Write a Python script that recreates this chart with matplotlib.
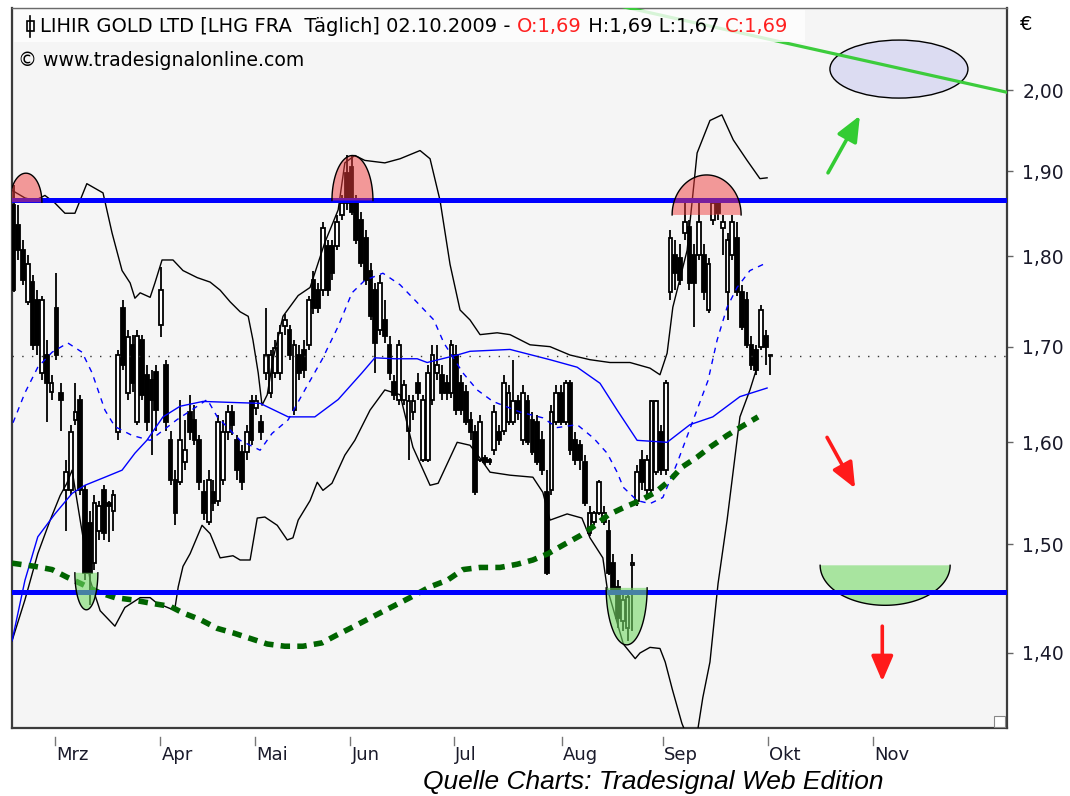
import numpy as np
import matplotlib
matplotlib.use("Agg")
import matplotlib.pyplot as plt
from matplotlib.patches import Polygon, Ellipse, Rectangle
from matplotlib.ticker import FixedLocator, NullLocator, FixedFormatter

# ---------------- data (trading-day index, price in EUR) ----------------
opens = [1.860,1.836,1.807,1.749,1.771,1.751,1.672,1.691,1.652,1.742,
 1.651,1.552,1.552,1.623,1.644,1.552,1.520,1.482,1.513,1.552,
 1.540,1.532,1.610,1.742,1.651,1.702,1.621,1.707,1.670,1.664,
 1.673,1.724,1.680,1.602,1.562,1.560,1.580,1.631,1.623,1.602,
 1.550,1.521,1.550,1.542,1.562,1.610,1.631,1.602,1.590,1.590,
 1.642,1.635,1.621,1.672,1.651,1.672,1.672,1.722,1.718,1.633,
 1.691,1.696,1.702,1.773,1.762,1.762,1.812,1.812,1.812,1.848,
 1.898,1.905,1.862,1.842,1.821,1.784,1.762,1.718,1.729,1.702,
 1.662,1.644,1.644,1.612,1.631,1.661,1.582,1.582,1.644,1.672,
 1.670,1.661,1.651,1.691,1.661,1.652,1.623,1.610,1.582,1.584,
 1.582,1.592,1.610,1.612,1.621,1.621,1.642,1.602,1.642,1.623,
 1.621,1.602,1.550,1.552,1.621,1.651,1.621,1.661,1.602,1.597,
 1.580,1.511,1.521,1.530,1.521,1.513,1.482,1.460,1.429,1.422,
 1.480,1.542,1.582,1.552,1.552,1.570,1.610,1.572,1.760,1.802,
 1.798,1.827,1.834,1.802,1.802,1.802,1.740,1.842,1.862,1.833,
 1.760,1.802,1.821,1.760,1.751,1.702,1.696,1.700,1.711,1.69]
closes = [1.762,1.807,1.773,1.791,1.702,1.702,1.751,1.661,1.661,1.691,
 1.644,1.570,1.610,1.631,1.552,1.473,1.473,1.540,1.537,1.511,
 1.537,1.547,1.691,1.680,1.710,1.661,1.711,1.649,1.621,1.644,
 1.633,1.762,1.621,1.562,1.530,1.602,1.592,1.610,1.602,1.560,
 1.530,1.562,1.540,1.621,1.610,1.631,1.618,1.572,1.560,1.610,
 1.602,1.642,1.610,1.691,1.691,1.699,1.715,1.729,1.691,1.702,
 1.672,1.675,1.751,1.742,1.742,1.833,1.762,1.781,1.840,1.862,
 1.862,1.851,1.819,1.793,1.773,1.733,1.704,1.770,1.711,1.672,
 1.649,1.702,1.659,1.642,1.642,1.651,1.644,1.672,1.691,1.680,
 1.651,1.651,1.702,1.633,1.633,1.621,1.610,1.550,1.621,1.580,
 1.580,1.631,1.602,1.661,1.651,1.642,1.630,1.651,1.600,1.590,
 1.580,1.572,1.473,1.631,1.651,1.621,1.661,1.592,1.582,1.582,
 1.540,1.530,1.530,1.560,1.530,1.473,1.454,1.431,1.448,1.451,
 1.482,1.570,1.560,1.582,1.642,1.642,1.572,1.661,1.821,1.781,
 1.773,1.840,1.770,1.770,1.840,1.760,1.791,1.862,1.850,1.840,
 1.819,1.840,1.760,1.721,1.702,1.680,1.675,1.740,1.700,1.69]
highs = [1.883,1.860,1.819,1.802,1.779,1.762,1.756,1.707,1.670,1.781,
 1.661,1.582,1.618,1.661,1.649,1.557,1.532,1.547,1.542,1.557,
 1.542,1.552,1.696,1.751,1.718,1.713,1.718,1.713,1.680,1.675,
 1.680,1.788,1.686,1.612,1.572,1.644,1.623,1.649,1.638,1.607,
 1.562,1.572,1.562,1.628,1.623,1.638,1.638,1.607,1.597,1.618,
 1.649,1.649,1.628,1.742,1.696,1.707,1.724,1.735,1.724,1.707,
 1.702,1.707,1.756,1.784,1.770,1.840,1.819,1.819,1.848,1.871,
 1.919,1.919,1.871,1.851,1.830,1.793,1.770,1.779,1.751,1.711,
 1.670,1.707,1.664,1.649,1.649,1.672,1.649,1.680,1.702,1.702,
 1.680,1.670,1.707,1.702,1.670,1.659,1.631,1.618,1.628,1.587,
 1.584,1.638,1.618,1.670,1.659,1.686,1.649,1.659,1.649,1.631,
 1.628,1.612,1.572,1.638,1.659,1.659,1.664,1.664,1.610,1.602,
 1.587,1.537,1.532,1.562,1.537,1.523,1.491,1.466,1.457,1.457,
 1.491,1.577,1.592,1.587,1.644,1.644,1.618,1.664,1.830,1.819,
 1.814,1.865,1.842,1.814,1.865,1.814,1.798,1.868,1.868,1.848,
 1.827,1.848,1.840,1.768,1.760,1.711,1.702,1.745,1.718,1.69]
lows = [1.760,1.796,1.768,1.745,1.696,1.691,1.664,1.621,1.644,1.686,
 1.612,1.513,1.547,1.618,1.547,1.466,1.443,1.476,1.504,1.504,
 1.502,1.513,1.602,1.675,1.644,1.652,1.618,1.644,1.612,1.587,
 1.612,1.710,1.612,1.557,1.518,1.557,1.572,1.602,1.597,1.552,
 1.523,1.518,1.532,1.537,1.557,1.602,1.607,1.562,1.552,1.582,
 1.597,1.628,1.602,1.664,1.646,1.667,1.664,1.713,1.686,1.628,
 1.664,1.667,1.696,1.735,1.737,1.756,1.756,1.773,1.807,1.842,
 1.854,1.848,1.814,1.788,1.768,1.729,1.672,1.713,1.704,1.664,
 1.644,1.638,1.638,1.582,1.623,1.644,1.580,1.580,1.638,1.664,
 1.644,1.644,1.646,1.628,1.628,1.618,1.602,1.547,1.580,1.577,
 1.577,1.587,1.597,1.607,1.618,1.618,1.623,1.597,1.597,1.587,
 1.577,1.567,1.471,1.547,1.618,1.618,1.618,1.587,1.577,1.572,
 1.537,1.508,1.518,1.528,1.518,1.471,1.452,1.422,1.420,1.411,
 1.420,1.537,1.552,1.547,1.547,1.567,1.567,1.567,1.751,1.762,
 1.768,1.819,1.762,1.721,1.796,1.751,1.737,1.836,1.842,1.802,
 1.729,1.796,1.756,1.718,1.699,1.675,1.670,1.696,1.680,1.67]

# indicator lines: (trading-day index, price)
upper_band_x = [-0.3,2.4,4.5,6.6,8.7,10.8,12.9,15.4,18.8,20.7,22.8,24.5,25.5,26.6,28.7,29.7,31.2,33.5,35.6,38.6,
  41.3,43.4,45.5,47.6,49.3,50.3,51.4,52.2,53.3,54.5,56.6,59.8,62.3,65.4,68.2,69.6,71.7,73.8,78.0,81.2,
  85.4,87.5,89.6,91.7,93.8,95.9,98.0,101.6,104.3,108.5,112.7,116.9,121.1,125.3,129.5,133.7,135.8,137.3,138.5,141.5,
  143.6,146.3,148.8,151.2,154.1,156.8,158.3]
upper_band_y = [1.877,1.868,1.865,1.871,1.862,1.850,1.850,1.885,1.874,1.827,1.784,1.770,1.753,1.759,1.754,1.770,1.796,1.796,1.784,1.776,
  1.771,1.762,1.749,1.738,1.733,1.707,1.672,1.638,1.649,1.686,1.733,1.756,1.765,1.816,1.854,1.910,1.919,1.913,1.910,1.915,
  1.925,1.915,1.865,1.791,1.740,1.729,1.713,1.715,1.713,1.702,1.700,1.691,1.686,1.683,1.683,1.677,1.670,1.693,1.743,1.807,
  1.922,1.962,1.969,1.938,1.913,1.891,1.892]
lower_band_x = [-0.3,2.4,5.1,7.7,9.8,11.2,12.3,14.0,16.1,18.2,21.3,23.4,26.6,28.7,30.1,32.9,33.9,34.6,35.6,37.1,
  39.6,41.3,43.4,46.1,47.6,49.7,51.2,52.8,55.4,57.5,58.7,59.8,62.3,63.8,65.0,66.9,69.6,71.7,74.9,78.0,
  81.2,83.9,87.5,89.2,93.2,95.9,98.0,100.1,104.3,109.1,111.2,112.7,116.3,119.4,121.1,123.8,124.7,128.1,130.6,131.6,
  133.7,135.8,136.9,138.4,140.4,141.3,143.6,144.8,146.3,148.0,149.9,152.6,154.7,156.2]
lower_band_y = [1.411,1.448,1.491,1.523,1.547,1.559,1.572,1.523,1.466,1.438,1.424,1.441,1.450,1.450,1.445,1.440,1.440,1.460,1.479,1.491,
  1.518,1.510,1.487,1.489,1.485,1.485,1.525,1.526,1.518,1.504,1.506,1.523,1.542,1.560,1.552,1.559,1.587,1.602,1.633,1.654,
  1.649,1.595,1.557,1.559,1.600,1.597,1.584,1.570,1.567,1.565,1.550,1.523,1.529,1.525,1.506,1.487,1.459,1.408,1.395,1.400,
  1.405,1.404,1.392,1.368,1.339,1.330,1.330,1.361,1.392,1.463,1.523,1.626,1.654,1.678]
mid_band_x = [-0.3,2.4,5.1,8.7,12.3,15.0,19.2,22.8,25.5,28.0,31.4,35.0,39.8,45.5,51.8,57.7,63.3,68.2,73.2,75.9,
  80.1,84.8,86.9,93.2,95.9,104.3,112.7,118.4,123.2,126.8,131.0,137.3,142.1,146.9,152.6,158.3]
mid_band_y = [1.411,1.466,1.507,1.529,1.549,1.557,1.565,1.572,1.589,1.602,1.626,1.637,1.642,1.641,1.640,1.626,1.626,1.644,1.672,1.688,
  1.687,1.687,1.683,1.691,1.695,1.697,1.686,1.678,1.661,1.633,1.602,1.600,1.618,1.626,1.647,1.656]
fast_ma_x = [-0.1,2.4,5.1,8.1,11.4,14.4,16.5,19.2,21.3,24.9,28.7,34.3,38.6,40.7,42.8,47.6,51.8,54.3,57.7,61.2,
  64.8,68.2,71.1,73.8,77.6,81.2,84.3,88.3,90.4,94.4,97.4,100.7,106.4,111.2,114.2,118.4,121.9,124.7,126.8,128.1,
  131.0,133.7,136.4,139.4,142.8,145.9,147.8,149.9,152.0,154.7,157.5]
fast_ma_y = [1.620,1.651,1.678,1.694,1.704,1.694,1.672,1.633,1.616,1.607,1.602,1.623,1.637,1.644,1.626,1.602,1.592,1.609,1.623,1.654,
  1.686,1.722,1.759,1.773,1.781,1.768,1.751,1.729,1.704,1.672,1.654,1.642,1.631,1.625,1.615,1.618,1.604,1.589,1.570,1.555,
  1.542,1.539,1.545,1.579,1.623,1.664,1.707,1.743,1.765,1.784,1.791]
slow_ma_x = [-0.3,4.5,8.1,11.2,14.6,17.8,21.3,24.9,28.7,32.9,35.6,39.2,42.8,46.1,49.7,53.3,57.0,60.8,64.8,67.9,
  70.7,77.0,83.3,87.5,91.1,94.4,98.0,102.2,105.8,109.1,112.3,115.4,119.0,122.2,124.9,128.1,131.6,134.8,137.9,140.4,
  143.6,146.3,149.9,152.6,156.4]
slow_ma_y = [1.482,1.479,1.476,1.469,1.462,1.455,1.450,1.448,1.445,1.442,1.436,1.430,1.422,1.418,1.413,1.408,1.406,1.406,1.409,1.416,
  1.422,1.436,1.450,1.460,1.466,1.476,1.478,1.478,1.481,1.485,1.491,1.499,1.508,1.518,1.528,1.535,1.542,1.550,1.562,1.575,
  1.585,1.595,1.607,1.615,1.626]

resistance = 1.866
support = 1.455
last_close = 1.69
trend_x = [125.0, 209.0]
trend_y = [2.113, 1.997]

month_labels = ["Mrz", "Apr", "Mai", "Jun", "Jul", "Aug", "Sep", "Okt", "Nov"]
month_pos = [8.7, 30.8, 50.7, 70.7, 92.5, 115.2, 136.4, 158.5, 180.6]
price_ticks = [1.40, 1.50, 1.60, 1.70, 1.80, 1.90, 2.00]
price_labels = ["1,40", "1,50", "1,60", "1,70", "1,80", "1,90", "2,00"]

# ---------------- figure ----------------
W, H = 1070, 796
fig = plt.figure(figsize=(W / 100, H / 100), dpi=100)
fig.patch.set_facecolor("white")
ax = fig.add_axes([12 / W, 68 / H, 995 / W, 720 / H])
ax.set_facecolor("#f5f5f5")
ax.set_yscale("log")
ax.set_ylim(1.335, 2.107)
ax.set_xlim(-0.32, 208.7)

for s in ["left", "bottom", "right"]:
    ax.spines[s].set_color("#3c3c3c")
    ax.spines[s].set_linewidth(1.6)
ax.spines["top"].set_color("#6a6a6a")
ax.spines["top"].set_linewidth(1.0)

ax.yaxis.tick_right()
ax.yaxis.set_major_locator(FixedLocator(price_ticks))
ax.yaxis.set_major_formatter(FixedFormatter(price_labels))
ax.yaxis.set_minor_locator(NullLocator())
ax.tick_params(axis="y", which="major", length=4, width=1, color="#666666",
               pad=7, labelsize=13.5, labelcolor="#1a1a2a")
ax.set_xticks([])

# candles
o = np.array(opens); c = np.array(closes); h = np.array(highs); l = np.array(lows)
idx = np.arange(len(c))
ax.vlines(idx, l, h, colors="black", linewidth=1.3, zorder=3)
bottoms = np.minimum(o, c)
heights = np.maximum(np.abs(c - o), 0.0015)
face = ["white" if cc >= oo else "black" for oo, cc in zip(o, c)]
ax.bar(idx, heights, bottom=bottoms, width=0.78, color=face, edgecolor="black",
       linewidth=1.3, zorder=4)

# indicators
ax.plot(upper_band_x, upper_band_y, color="black", lw=1.0, zorder=5)
ax.plot(lower_band_x, lower_band_y, color="black", lw=1.0, zorder=5)
ax.plot(mid_band_x, mid_band_y, color="#0000ff", lw=1.0, zorder=5)
ax.plot(fast_ma_x, fast_ma_y, color="#0000ff", lw=1.0, ls=(0, (4, 4)), zorder=5)
ax.plot(slow_ma_x, slow_ma_y, color="#006400", lw=4.0, ls=(0, (1.7, 1.3)),
        dash_capstyle="butt", zorder=5)

# horizontal lines
ax.axhline(resistance, color="#0000ff", lw=3.6, zorder=6)
ax.axhline(support, color="#0000ff", lw=3.6, zorder=6)
ax.axhline(last_close, color="#333333", lw=1.0, ls=(0, (1, 6)), zorder=6)

fig.canvas.draw()

def to_disp(xd, yd):
    return ax.transData.transform((xd, yd))

def half_ellipse(xd, yd, a_px, b_px, upper, fc, alpha, z):
    X, Y = to_disp(xd, yd)
    t = np.linspace(0, np.pi, 80)
    xs = X + a_px * np.cos(t)
    ys = Y + (b_px if upper else -b_px) * np.sin(t)
    pts = ax.transAxes.inverted().transform(np.column_stack([xs, ys]))
    ax.add_patch(Polygon(pts, closed=True, transform=ax.transAxes, facecolor=fc,
                         alpha=alpha, edgecolor="none", zorder=z))
    ax.plot(pts[:, 0], pts[:, 1], transform=ax.transAxes, color="black",
            lw=1.0, zorder=z + 0.1)

red_fill = "#f03c3c"
green_fill = "#75d967"
half_ellipse(2.6, 1.863, 16, 29, True, red_fill, 0.5, 7)
half_ellipse(71.2, 1.865, 20.5, 45, True, red_fill, 0.5, 7)
half_ellipse(145.6, 1.848, 34.5, 40, True, red_fill, 0.5, 7)
half_ellipse(15.3, 1.473, 11.5, 37, False, green_fill, 0.6, 7)
half_ellipse(128.8, 1.459, 20.5, 57, False, green_fill, 0.6, 7)
half_ellipse(183.1, 1.480, 65, 40, False, green_fill, 0.6, 5.5)

# trend line and ellipse
ax.plot(trend_x, trend_y, color="#3ccc3c", lw=2.3, zorder=8)
ex, ey = ax.transAxes.inverted().transform(to_disp(186.0, 2.027))
ax.add_patch(Ellipse((ex, ey), 138 / 995, 58 / 720, transform=ax.transAxes,
                     facecolor="#dcdcf2", edgecolor="black", lw=1.0, zorder=7))

# arrows
def arrow(x0, y0, x1, y1, col):
    ax.annotate("", xy=(x1, y1), xytext=(x0, y0), xycoords="data",
                arrowprops=dict(arrowstyle="-|>,head_length=0.7,head_width=0.3",
                                color=col, lw=2.6, mutation_scale=22,
                                shrinkA=0, shrinkB=0), zorder=9)

arrow(171.1, 1.898, 177.8, 1.968, "#33cc33")
arrow(170.9, 1.605, 176.8, 1.554, "#ff1a1a")
arrow(182.5, 1.424, 182.5, 1.375, "#ff1a1a")

# month ticks and labels
tr = ax.get_xaxis_transform()
for lab, pos in zip(month_labels, month_pos):
    ax.plot([pos, pos], [-0.0125, -0.0236], transform=tr, color="#777777",
            lw=1.0, clip_on=False)
    ax.text(pos + 0.3, -0.0375, lab, transform=tr, ha="left", va="center",
            fontsize=13, color="#1a1a2a", clip_on=False)

# resize handle
ax.add_patch(Rectangle((1 - 13 / 995, 1 / 720), 11 / 995, 11 / 720,
                       transform=ax.transAxes, facecolor="white",
                       edgecolor="#888888", lw=0.8, zorder=10))

# title box
ax.add_patch(Rectangle(((14 - 12) / 995, (728 - 42) / 720), (805 - 14) / 995, 32 / 720,
                       transform=ax.transAxes, facecolor="white", alpha=0.8,
                       edgecolor="none", zorder=20))

def fx(px):
    return px / W
def fy(py):
    return 1 - py / H

# candle icon
fig.add_artist(plt.Line2D([fx(30.5), fx(30.5)], [fy(16), fy(37)], color="black", lw=1.2))
fig.add_artist(Rectangle((fx(27), fy(31)), 7 / W, 10 / H, facecolor="white",
                         edgecolor="black", lw=1.2))

renderer = fig.canvas.get_renderer()
pieces = [("LIHIR GOLD LTD [LHG FRA  Täglich] 02.10.2009 - ", "black"),
          ("O:1,69", "#ff2020"), (" H:1,69 L:1,67 ", "black"), ("C:1,69", "#ff2020")]
xpos = 40.0
for txt, col in pieces:
    t = fig.text(fx(xpos), fy(27), txt, color=col, fontsize=14.0, ha="left",
                 va="center", family="DejaVu Sans")
    bb = t.get_window_extent(renderer=renderer)
    xpos = bb.x1
fig.text(fx(18), fy(60), "© www.tradesignalonline.com", fontsize=13.6,
         ha="left", va="center", color="black", family="DejaVu Sans")
fig.text(fx(1020), fy(24), "€", fontsize=14, ha="left", va="center", color="black")
fig.text(fx(653), fy(782), "Quelle Charts: Tradesignal Web Edition", fontsize=19,
         style="italic", family="Liberation Sans", ha="center", va="center",
         color="black")

fig.savefig("out.png", dpi=100)
